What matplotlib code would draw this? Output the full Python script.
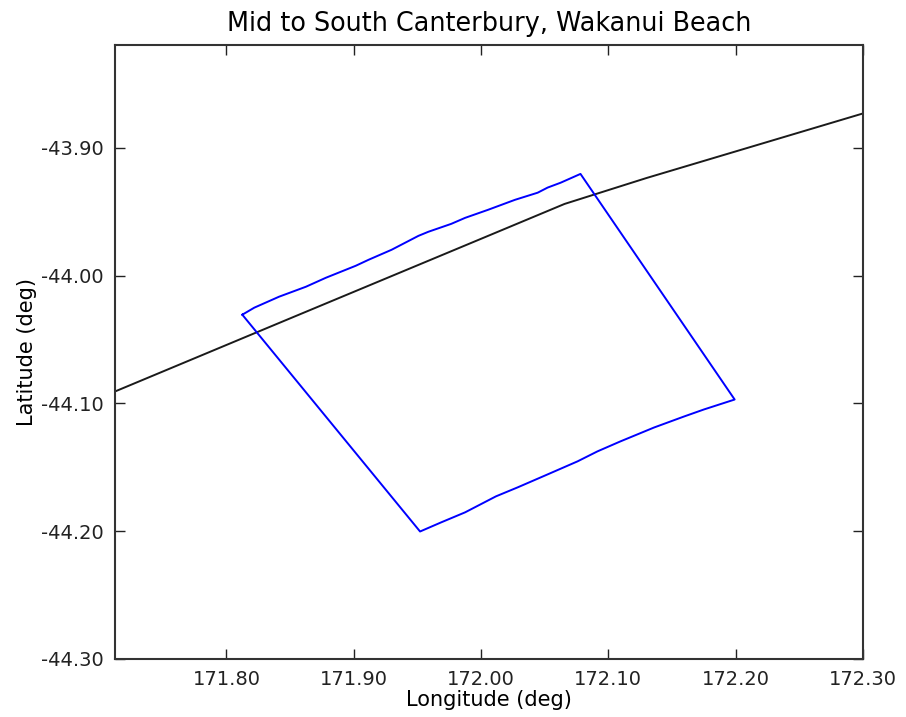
import matplotlib.pyplot as plt

# coastline / track (black)
coast_lon = [171.700, 171.8500, 172.0000, 172.0656, 172.1300, 172.3100]
coast_lat = [-44.0958, -44.0334, -43.9711, -43.9438, -43.9235, -43.8700]

# survey box (blue), closed polygon
box_lon = [171.8125, 171.8219, 171.8414, 171.8625, 171.8781, 171.9016, 171.9117,
           171.9297, 171.9508, 171.9586, 171.9766, 171.9875, 172.0055, 172.0266,
           172.0445, 172.0523, 172.0625, 172.0781,
           172.1992,
           172.1750, 172.1594, 172.1359, 172.1094, 172.0914, 172.0758, 172.0523,
           172.0289, 172.0117, 171.9875, 171.9688, 171.9521,
           171.8125]
box_lat = [-44.0305, -44.0250, -44.0164, -44.0086, -44.0016, -43.9922, -43.9875,
           -43.9797, -43.9688, -43.9656, -43.9594, -43.9547, -43.9484, -43.9406,
           -43.9350, -43.9310, -43.9272, -43.9203,
           -44.0969,
           -44.1047, -44.1102, -44.1188, -44.1297, -44.1375, -44.1453, -44.1555,
           -44.1656, -44.1727, -44.1852, -44.1930, -44.2002,
           -44.0305]

xticks = [171.80, 171.90, 172.00, 172.10, 172.20, 172.30]
yticks = [-44.30, -44.20, -44.10, -44.00, -43.90]

fig = plt.figure(figsize=(9.06, 7.17), dpi=100)
ax = fig.add_axes([115/906, 58/717, 748/906, 614/717])

ax.plot(coast_lon, coast_lat, color='#1a1a1a', lw=1.4)
ax.plot(box_lon, box_lat, color='#0000ff', lw=1.4)

ax.set_xlim(171.7125, 172.30)
ax.set_ylim(-44.30, -43.8194)
ax.set_xticks(xticks)
ax.set_yticks(yticks)
ax.set_xticklabels(['%.2f' % t for t in xticks])
ax.set_yticklabels(['%.2f' % t for t in yticks])
ax.tick_params(direction='in', length=7, width=1, top=True, right=True,
               labelsize=14, pad=8, colors='#222222')
for s in ax.spines.values():
    s.set_linewidth(1.5)
    s.set_color('#333333')

ax.set_xlabel('Longitude (deg)', fontsize=15, labelpad=1)
ax.set_ylabel('Latitude (deg)', fontsize=15, labelpad=3)
ax.set_title('Mid to South Canterbury, Wakanui Beach', fontsize=18.4, pad=10)

fig.savefig('out.png', dpi=100)
